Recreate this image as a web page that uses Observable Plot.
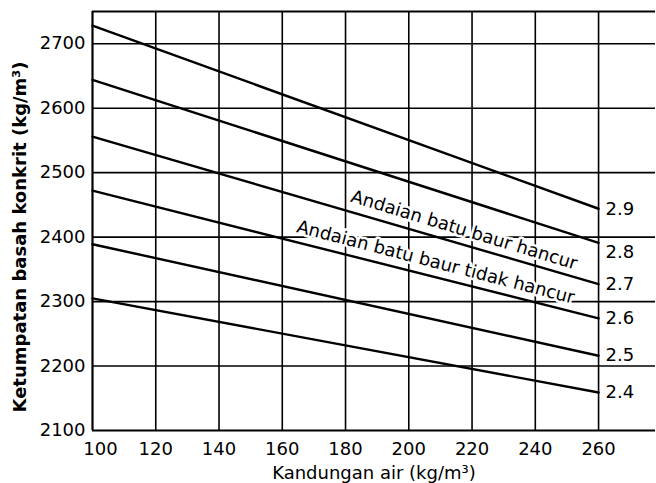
<!DOCTYPE html>
<html>
<head>
<meta charset="utf-8">
<script src="https://cdn.jsdelivr.net/npm/d3@7"></script>
<script src="https://cdn.jsdelivr.net/npm/@observablehq/plot@0.6"></script>
<style>
  html, body { margin: 0; padding: 0; background: #fff; }
</style>
</head>
<body>
<div id="chart"></div>
<script>
const xTicks = [100, 120, 140, 160, 180, 200, 220, 240, 260];
const yTicks = [2100, 2200, 2300, 2400, 2500, 2600, 2700];
const gravity = ["2.9", "2.8", "2.7", "2.6", "2.5", "2.4"];
const waterContent = [100, 260];
const densityAt100 = [2728, 2644, 2556, 2472, 2389, 2305];
const densityAt260 = [2444, 2391, 2327, 2274, 2216, 2159];
const xLabel = "Kandungan air (kg/m³)";
const yLabel = "Ketumpatan basah konkrit (kg/m³)";
const note1 = "Andaian batu baur hancur";
const note2 = "Andaian batu baur tidak hancur";

const rows = gravity.flatMap((g, i) => [
  {x: waterContent[0], y: densityAt100[i], g},
  {x: waterContent[1], y: densityAt260[i], g}
]);
const ends = gravity.map((g, i) => ({x: waterContent[1], y: densityAt260[i], g}));

const font = "'DejaVu Sans', sans-serif";

const chart = Plot.plot({
  width: 656,
  height: 483,
  marginLeft: 92,
  marginRight: 1,
  marginTop: 11,
  marginBottom: 53,
  x: {domain: [100, 278]},
  y: {domain: [2100, 2750]},
  style: {fontFamily: font, fontSize: "18px", color: "#000", background: "#fff"},
  marks: [
    Plot.ruleY(yTicks.slice(1), {stroke: "#000", strokeWidth: 1.6}),
    Plot.ruleX(xTicks.slice(1), {y1: 2100, y2: 2750, stroke: "#000", strokeWidth: 1.6}),
    Plot.ruleY([2100, 2750], {stroke: "#000", strokeWidth: 2.2}),
    Plot.ruleX([100], {y1: 2100, y2: 2750, stroke: "#000", strokeWidth: 2.2}),
    Plot.text([note1], {x: 217.5, y: 2411, text: d => d, rotate: 16.8, fontSize: 18, fill: "#000", stroke: "#fff", strokeWidth: 5}),
    Plot.text([note2], {x: 208.5, y: 2361, text: d => d, rotate: 14.5, fontSize: 18, fill: "#000", stroke: "#fff", strokeWidth: 5}),
    Plot.line(rows, {x: "x", y: "y", z: "g", stroke: "#000", strokeWidth: 2.4}),
    Plot.text(ends.filter(d => d.g !== "2.8"), {x: "x", y: "y", text: "g", dx: 7, textAnchor: "start", fontSize: 18, fill: "#000"}),
    Plot.text(ends.filter(d => d.g === "2.8"), {x: "x", y: "y", text: "g", dx: 7, dy: 9, textAnchor: "start", fontSize: 18, fill: "#000"}),
    Plot.axisX(xTicks.slice(1), {tickSize: 0, tickPadding: 12, label: null, fontSize: 18, tickFormat: d => String(d)}),
    Plot.axisX(xTicks.slice(0, 1), {tickSize: 0, tickPadding: 12, dx: 8, label: null, fontSize: 18, tickFormat: d => String(d)}),
    Plot.axisY(yTicks, {tickSize: 0, tickPadding: 7, label: null, fontSize: 18, tickFormat: d => String(d)}),
    Plot.text([xLabel], {frameAnchor: "bottom", dy: 48, text: d => d, fontSize: 18, fill: "#000"}),
    Plot.text([yLabel], {frameAnchor: "left", textAnchor: "middle", lineAnchor: "middle", dx: -72, dy: 16, rotate: -90, text: d => d, fontSize: 18, fontWeight: "bold", fill: "#000"})
  ]
});
document.getElementById("chart").appendChild(chart);
</script>
</body>
</html>
